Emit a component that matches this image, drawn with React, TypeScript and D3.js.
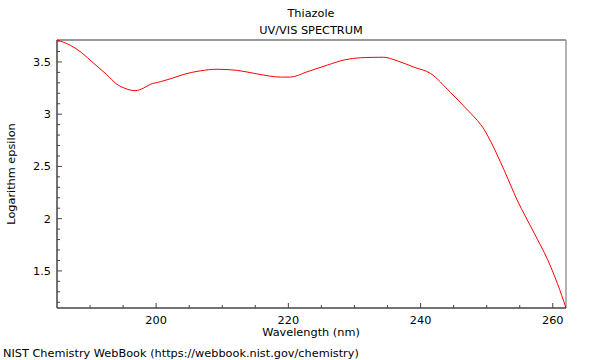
import React from "react";
import * as d3 from "d3";

const title = "Thiazole";
const subtitle = "UV/VIS SPECTRUM";
const xLabel = "Wavelength (nm)";
const yLabel = "Logarithm epsilon";
const credit = "NIST Chemistry WebBook (https://webbook.nist.gov/chemistry)";

const wavelengths = [185, 187, 188.7, 190.5, 192.5, 194, 195.6, 196.8, 198.1, 199.1, 200.6, 202.5, 204.1, 206.7, 209.2, 212.2, 215.3, 218.8, 220.3, 222.8, 225.9, 228.5, 230.9, 234.4, 236.5, 239, 241.5, 244.5, 247.1, 249.1, 249.6, 250.1, 250.6, 252.6, 254.6, 257.2, 259.2, 260.7, 262];
const logEps = [3.71, 3.66, 3.59, 3.49, 3.38, 3.29, 3.24, 3.225, 3.25, 3.285, 3.31, 3.345, 3.38, 3.415, 3.43, 3.42, 3.385, 3.355, 3.355, 3.405, 3.47, 3.52, 3.54, 3.545, 3.51, 3.45, 3.39, 3.21, 3.04, 2.9, 2.855, 2.8, 2.74, 2.47, 2.18, 1.86, 1.61, 1.38, 1.145];

const xTicks = [200, 220, 240, 260];
const yTicks = [1.5, 2, 2.5, 3, 3.5];

export default function App() {
  const W = 600, H = 360;
  const L = 57, R = 566, T = 40, B = 308;
  const fs = 11.3;
  const x = d3.scaleLinear().domain([185, 262]).range([L, R]);
  const y = d3.scaleLinear().domain([1.145, 3.71]).range([B, T]);
  const pts = wavelengths.map((w, i) => [w, logEps[i]] as [number, number]);
  const line = d3.line<[number, number]>().x(d => x(d[0])).y(d => y(d[1])).curve(d3.curveMonotoneX);
  const xMinor = d3.range(190, 262, 5).filter(v => !xTicks.includes(v));
  const yMinor = d3.range(12, 38).map(v => v / 10).filter(v => !yTicks.some(t => Math.abs(t - v) < 1e-6) && v >= 1.145 && v <= 3.71);
  const font = "DejaVu Sans, sans-serif";
  return (
    <svg width={W} height={H} style={{ position: "absolute", left: 0, top: 0, background: "#fff" }} fontFamily={font}>
      <text x={311} y={17} textAnchor="middle" fontSize={fs}>{title}</text>
      <text x={311} y={34} textAnchor="middle" fontSize={fs}>{subtitle}</text>
      <line x1={L} x2={R} y1={T} y2={T} stroke="#999" strokeWidth={2} />
      <line x1={R} x2={R} y1={T} y2={B} stroke="#999" strokeWidth={1.5} />
      <line x1={L} x2={L} y1={T} y2={B} stroke="#444" strokeWidth={1.5} />
      <line x1={L} x2={R} y1={B} y2={B} stroke="#444" strokeWidth={1.5} />
      {xTicks.map(t => (
        <g key={"xt" + t}>
          <line x1={x(t)} x2={x(t)} y1={B} y2={B - 5} stroke="#444" />
          <text x={x(t)} y={B + 15.5} textAnchor="middle" fontSize={fs}>{t}</text>
        </g>
      ))}
      {xMinor.map(t => (
        <line key={"xm" + t} x1={x(t)} x2={x(t)} y1={B} y2={B - 3} stroke="#444" />
      ))}
      {yTicks.map(t => (
        <g key={"yt" + t}>
          <line x1={L} x2={L + 5} y1={y(t)} y2={y(t)} stroke="#444" />
          <text x={L - 6} y={y(t) + 4} textAnchor="end" fontSize={fs}>{t}</text>
        </g>
      ))}
      {yMinor.map(t => (
        <line key={"ym" + t} x1={L} x2={L + 3} y1={y(t)} y2={y(t)} stroke="#444" />
      ))}
      <path d={line(pts) || ""} fill="none" stroke="#ff0000" strokeWidth={1} />
      <text x={311} y={336} textAnchor="middle" fontSize={fs}>{xLabel}</text>
      <text transform={`translate(15,${(T + B) / 2}) rotate(-90)`} textAnchor="middle" fontSize={fs}>{yLabel}</text>
      <text x={3} y={357} fontSize={fs}>{credit}</text>
    </svg>
  );
}
